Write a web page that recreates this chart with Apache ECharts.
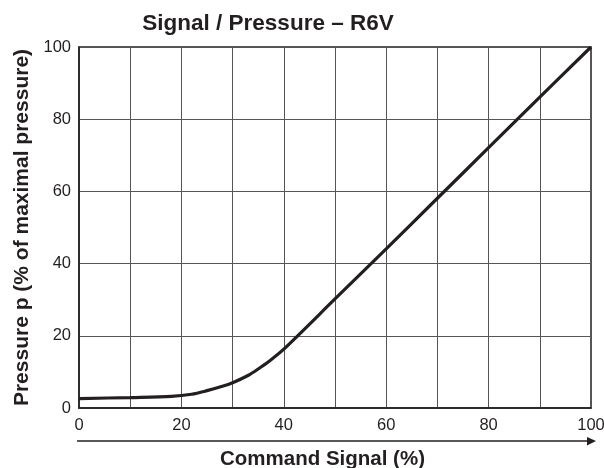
<!DOCTYPE html>
<html>
<head>
<meta charset="utf-8">
<script src="https://cdn.jsdelivr.net/npm/echarts@6/dist/echarts.min.js"></script>
<style>
  html, body { margin: 0; padding: 0; background: #fff; }
  #chart { width: 604px; height: 468px; }
</style>
</head>
<body>
<div id="chart"></div>
<script>
// command signal (%) and resulting pressure (% of max)
const signal = [0, 10, 18, 22, 25, 28, 30, 33, 35, 37, 40, 50, 60, 70, 80, 90, 100];
const pressure = [2.6, 2.9, 3.2, 3.8, 4.8, 6, 7, 9, 10.8, 12.8, 16.3, 30.2, 44.1, 58.1, 72.1, 86.1, 100];

const ink = "#231f20";
const font = "'Liberation Sans', Arial, Helvetica, sans-serif";

const chart = echarts.init(document.getElementById("chart"));

chart.setOption({
  animation: false,
  title: {
    text: "Signal / Pressure – R6V",
    left: 263,
    top: 7,
    textAlign: "center",
    textStyle: { fontFamily: font, fontSize: 22.5, fontWeight: "bold", color: ink },
  },
  grid: {
    left: 79,
    right: 13,
    top: 47,
    bottom: 60,
    show: true,
    borderColor: ink,
    borderWidth: 1.5,
    containLabel: false,
    outerBoundsMode: "none",
  },
  xAxis: {
    type: "value",
    min: 0,
    max: 100,
    interval: 20,
    name: "Command Signal (%)",
    nameLocation: "middle",
    nameGap: 41,
    nameTextStyle: {
      fontFamily: font, fontSize: 20.5, fontWeight: "bold", color: ink,
      padding: [0, 25, 0, 0],
    },
    axisLine: { show: true, lineStyle: { color: ink, width: 1.5 } },
    axisTick: { show: false },
    axisLabel: { fontFamily: font, fontSize: 16.5, color: ink, margin: 9 },
    splitLine: { show: true, lineStyle: { color: "#555", width: 1 } },
    minorTick: { show: false, splitNumber: 2 },
    minorSplitLine: { show: true, lineStyle: { color: "#555", width: 1 } },
  },
  yAxis: {
    type: "value",
    min: 0,
    max: 100,
    interval: 20,
    name: "Pressure p (% of maximal pressure)",
    nameLocation: "middle",
    nameGap: 45,
    nameTextStyle: { fontFamily: font, fontSize: 21, fontWeight: "bold", color: ink },
    axisLine: { show: true, lineStyle: { color: ink, width: 1.5 } },
    axisTick: { show: false },
    axisLabel: { fontFamily: font, fontSize: 16.5, color: ink, margin: 8 },
    splitLine: { show: true, lineStyle: { color: "#555", width: 1 } },
  },
  graphic: [
    {
      type: "line",
      shape: { x1: 77, y1: 441, x2: 590, y2: 441 },
      style: { stroke: ink, lineWidth: 1.5 },
    },
    {
      type: "polygon",
      shape: { points: [[587, 437], [596, 441], [587, 445.5]] },
      style: { fill: ink },
    },
  ],
  series: [
    {
      type: "line",
      data: signal.map((s, i) => [s, pressure[i]]),
      smooth: 0.3,
      showSymbol: false,
      lineStyle: { color: ink, width: 3.2 },
    },
  ],
});
</script>
</body>
</html>
